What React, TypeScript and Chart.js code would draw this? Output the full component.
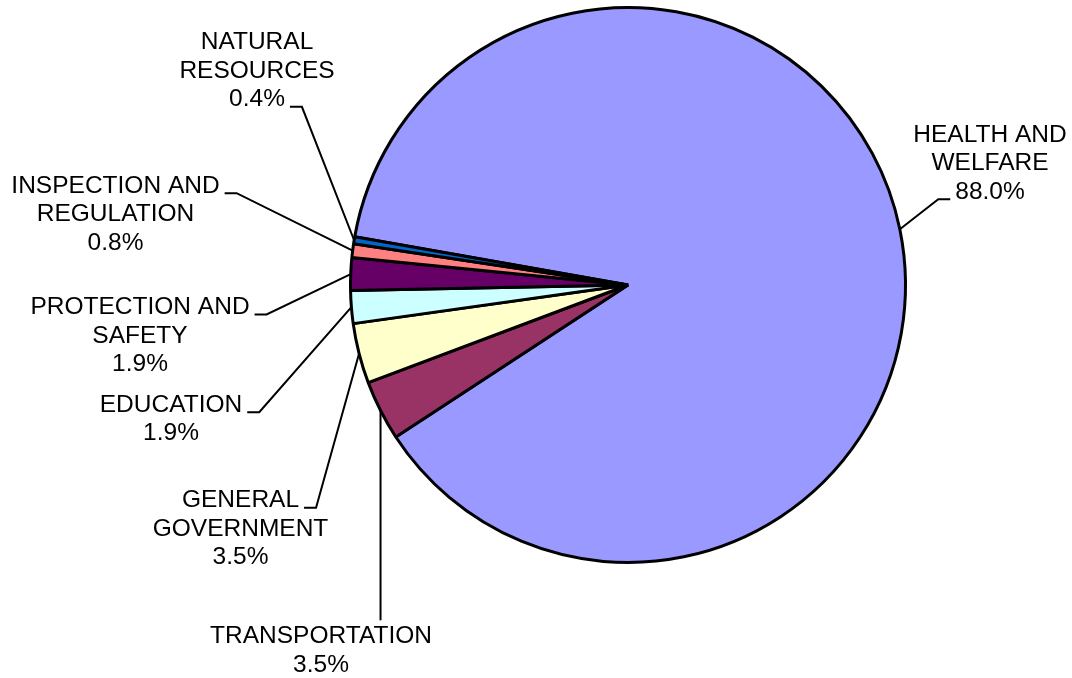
import React, { useEffect, useRef } from "react";
import { Chart, registerables } from "chart.js";

Chart.register(...registerables);

const categories = [
  "HEALTH AND\nWELFARE",
  "TRANSPORTATION",
  "GENERAL\nGOVERNMENT",
  "EDUCATION",
  "PROTECTION AND\nSAFETY",
  "INSPECTION AND\nREGULATION",
  "NATURAL\nRESOURCES",
];
const shares = [88.0, 3.5, 3.5, 1.9, 1.9, 0.8, 0.4];
const sliceColors = ["#9999FF", "#993366", "#FFFFCC", "#CCFFFF", "#660066", "#FF8080", "#0066CC"];

// label placement: text centre x, first baseline y, side where leader attaches, attached line
const labelLayout = [
  { cx: 990, y: 141.7, side: "left", line: 2 },
  { cx: 321, y: 643.3, side: "top", line: 0 },
  { cx: 240.5, y: 507.3, side: "right", line: 0 },
  { cx: 171, y: 411.7, side: "right", line: 0 },
  { cx: 140, y: 314, side: "right", line: 0 },
  { cx: 115.5, y: 192.7, side: "right", line: 0 },
  { cx: 257, y: 49.3, side: "right", line: 2 },
];

const FONT = '24.5px "Liberation Sans", Arial, sans-serif';
const LINE_H = 28.5;

const labelPlugin = {
  id: "pieLabels",
  afterDraw(chart: any) {
    const ctx = chart.ctx;
    const meta = chart.getDatasetMeta(0);
    ctx.save();
    ctx.font = FONT;
    ctx.fillStyle = "#000";
    ctx.strokeStyle = "#000";
    ctx.lineWidth = 2;
    ctx.textAlign = "center";
    ctx.textBaseline = "alphabetic";
    meta.data.forEach((arc: any, i: number) => {
      const p = arc.getProps(["x", "y", "startAngle", "endAngle", "outerRadius"], true);
      const mid = (p.startAngle + p.endAngle) / 2;
      const ex = p.x + Math.cos(mid) * p.outerRadius;
      const ey = p.y + Math.sin(mid) * p.outerRadius;
      const lines = categories[i].split("\n").concat([shares[i].toFixed(1) + "%"]);
      const lay = labelLayout[i];
      lines.forEach((t, k) => ctx.fillText(t, lay.cx, lay.y + k * LINE_H));
      const attach = lines[lay.line];
      const w = ctx.measureText(attach).width;
      const ly = lay.y + lay.line * LINE_H + 0.5;
      ctx.beginPath();
      if (lay.side === "right") {
        const endX = lay.cx + w / 2 + 5;
        ctx.moveTo(ex, ey);
        ctx.lineTo(endX + 12, ly);
        ctx.lineTo(endX, ly);
      } else if (lay.side === "left") {
        const endX = lay.cx - w / 2 - 5;
        ctx.moveTo(ex, ey);
        ctx.lineTo(endX - 12, ly);
        ctx.lineTo(endX, ly);
      } else {
        ctx.moveTo(ex, ey);
        ctx.lineTo(ex, lay.y - 23);
      }
      ctx.stroke();
    });
    ctx.restore();
  },
};

export default function App() {
  const ref = useRef<HTMLCanvasElement | null>(null);
  useEffect(() => {
    if (!ref.current) return;
    const chart = new Chart(ref.current, {
      type: "pie",
      data: {
        labels: categories,
        datasets: [
          {
            data: shares,
            backgroundColor: sliceColors,
            borderColor: "#000000",
            borderWidth: 3,
          },
        ],
      },
      options: {
        responsive: false,
        animation: false,
        rotation: 280,
        layout: { padding: { left: 349, top: 6, right: 165, bottom: 114 } },
        plugins: {
          legend: { display: false },
          tooltip: { enabled: false },
        },
      },
      plugins: [labelPlugin],
    });
    return () => chart.destroy();
  }, []);
  return (
    <div style={{ position: "absolute", left: 0, top: 0, width: 1072, height: 678, background: "#fff" }}>
      <canvas ref={ref} width={1072} height={678} style={{ display: "block" }} />
    </div>
  );
}
